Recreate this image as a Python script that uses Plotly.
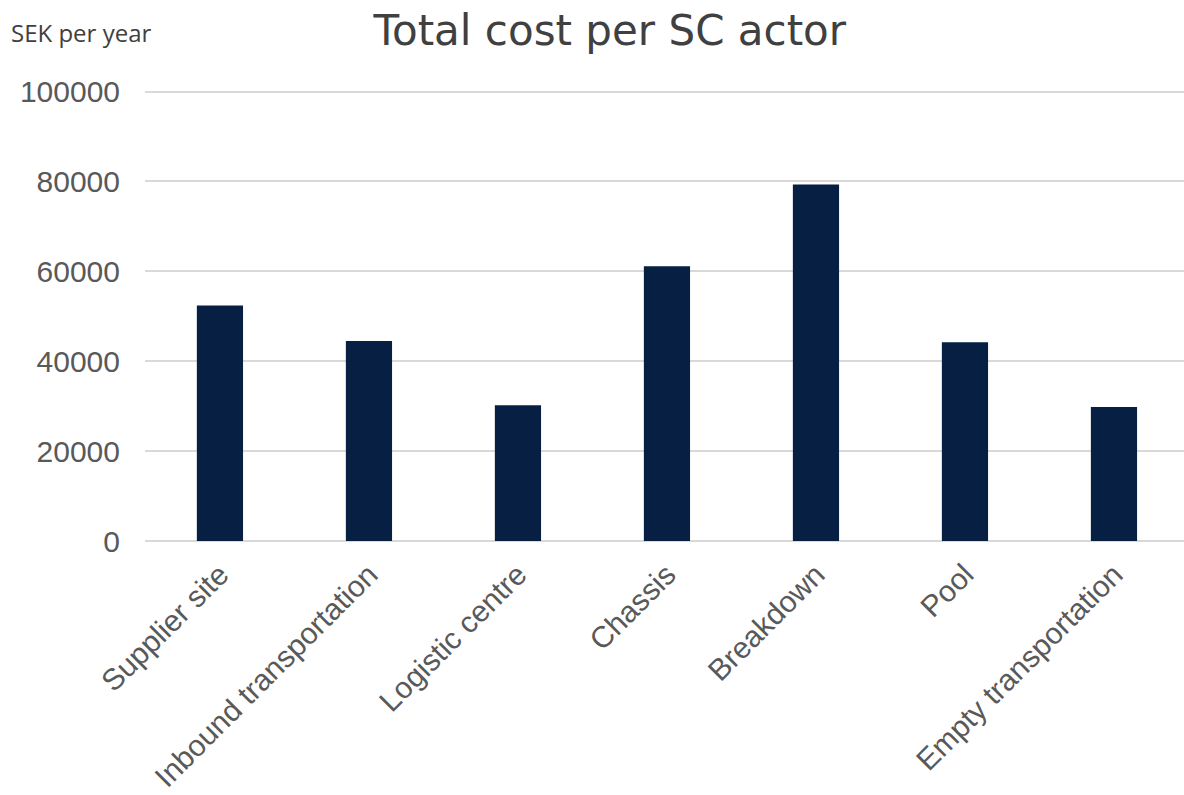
import plotly.graph_objects as go

categories = ["Supplier site", "Inbound transportation", "Logistic centre", "Chassis",
              "Breakdown", "Pool", "Empty transportation"]
values = [52400, 44500, 30200, 61100, 79300, 44200, 29800]
y_ticks = [0, 20000, 40000, 60000, 80000, 100000]

fig = go.Figure(go.Bar(
    x=categories, y=values, marker_color="#061F42", width=0.31,
    marker_line_width=0,
))

fig.update_layout(
    width=1184, height=795,
    margin=dict(l=145, r=0, t=87, b=254),
    paper_bgcolor="white", plot_bgcolor="white",
    font=dict(family="Liberation Sans, Arial, sans-serif", color="#595959"),
    title=dict(text="Total cost per SC actor", x=0.515, xanchor="center", y=0.962, yanchor="middle",
               font=dict(size=42, color="#404040", family="DejaVu Sans, sans-serif")),
    showlegend=False,
)
fig.update_xaxes(range=[-0.503, 6.47], tickangle=-45, tickfont=dict(size=30, color="#595959"),
                 showgrid=False, showline=False, ticks="", ticklabelstandoff=9, automargin=False)
fig.update_yaxes(range=[0, 101000], tickvals=y_ticks, ticktext=[str(v) for v in y_ticks],
                 tickfont=dict(size=30, color="#595959"), showgrid=True, gridcolor="#D9D9D9",
                 gridwidth=1.5, zeroline=True, zerolinecolor="#D9D9D9", zerolinewidth=1.5,
                 showline=False, ticks="", ticklabelstandoff=24, automargin=False)
fig.add_annotation(text="SEK per year", xref="paper", yref="paper", x=-0.1305, y=1.12,
                   xanchor="left", yanchor="middle", showarrow=False,
                   font=dict(size=24, color="#404040", family="Open Sans, sans-serif"))

fig.write_html("out.html")
